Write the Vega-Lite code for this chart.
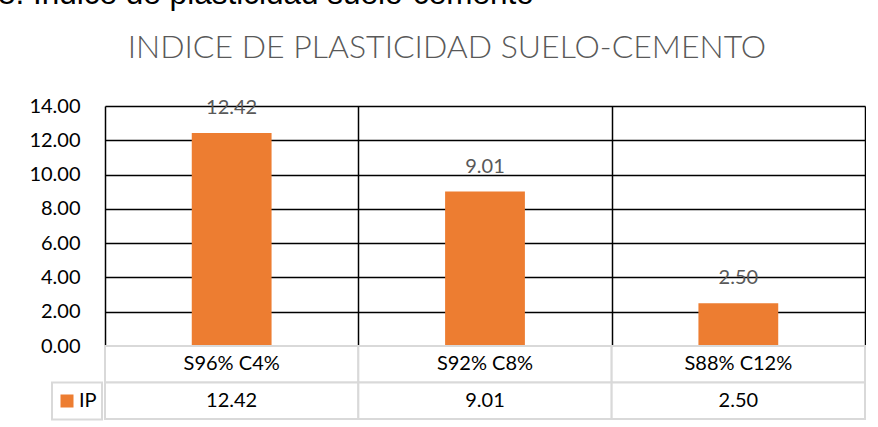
{
  "$schema": "https://vega.github.io/schema/vega-lite/v6.json",
  "padding": {"left": -2, "top": -22, "right": 0, "bottom": 0},
  "background": "white",
  "config": {
    "font": "Lato",
    "view": {"stroke": null}
  },
  "title": {
    "text": "8. Indice de plasticidad suelo-cemento",
    "anchor": "start",
    "frame": "group",
    "font": "Liberation Sans",
    "fontWeight": "normal",
    "fontSize": 31.5,
    "color": "#000000",
    "offset": 22,
    "dx": -107
  },
  "datasets": {
    "ip": [
      {"mezcla": "S96% C4%", "IP": 12.42, "serie": "IP"},
      {"mezcla": "S92% C8%", "IP": 9.01, "serie": "IP"},
      {"mezcla": "S88% C12%", "IP": 2.50, "serie": "IP"}
    ]
  },
  "bounds": "flush",
  "spacing": 0,
  "resolve": {"scale": {"color": "independent"}, "legend": {"color": "independent"}},
  "vconcat": [
    {
      "width": 760,
      "height": 240,
      "title": {
        "text": "INDICE DE PLASTICIDAD SUELO-CEMENTO",
        "anchor": "middle",
        "frame": "bounds",
        "font": "Lato",
        "fontWeight": 300,
        "fontSize": 32,
        "color": "#595959",
        "offset": 31
      },
      "data": {"name": "ip"},
      "encoding": {
        "x": {
          "field": "mezcla",
          "type": "nominal",
          "sort": null,
          "scale": {"paddingInner": 0, "paddingOuter": 0},
          "axis": {
            "title": null,
            "labels": false,
            "ticks": false,
            "domain": false,
            "grid": true,
            "tickBand": "extent",
            "gridColor": "#000000",
            "gridWidth": 1.5
          }
        },
        "y": {
          "field": "IP",
          "type": "quantitative",
          "scale": {"domain": [0, 14], "nice": false},
          "axis": {
            "title": null,
            "values": [0, 2, 4, 6, 8, 10, 12, 14],
            "format": ".2f",
            "labelFont": "Lato",
            "labelFontSize": 20,
            "labelColor": "#000000",
            "labelPadding": 25,
            "ticks": false,
            "domain": false,
            "grid": true,
            "gridColor": {"condition": {"test": "datum.value === 0", "value": "#d9d9d9"}, "value": "#000000"},
            "gridWidth": 1.5
          }
        }
      },
      "layer": [
        {
          "mark": {"type": "bar", "color": "#ED7D31", "width": {"band": 0.315}}
        },
        {
          "mark": {
            "type": "text",
            "baseline": "alphabetic",
            "dy": -19,
            "font": "Lato",
            "fontSize": 20,
            "color": "#595959"
          },
          "encoding": {"text": {"field": "IP", "type": "quantitative", "format": ".2f"}}
        }
      ]
    },
    {
      "width": 760,
      "height": 73,
      "data": {"name": "ip"},
      "encoding": {
        "x": {
          "field": "mezcla",
          "type": "nominal",
          "sort": null,
          "scale": {"paddingInner": 0, "paddingOuter": 0},
          "axis": null
        }
      },
      "layer": [
        {
          "mark": {"type": "rect", "fill": "white", "stroke": "#d9d9d9", "strokeWidth": 2},
          "encoding": {
            "y": {"datum": "fila", "type": "nominal", "scale": {"domain": ["fila", "valor"], "paddingInner": 0, "paddingOuter": 0}, "axis": null}
          }
        },
        {
          "mark": {"type": "rect", "fill": "white", "stroke": "#d9d9d9", "strokeWidth": 2},
          "encoding": {
            "y": {"datum": "valor", "type": "nominal"}
          }
        },
        {
          "mark": {"type": "text", "font": "Lato", "fontSize": 20, "color": "#000000"},
          "encoding": {
            "y": {"datum": "fila", "type": "nominal"},
            "text": {"field": "mezcla", "type": "nominal"}
          }
        },
        {
          "mark": {"type": "text", "font": "Lato", "fontSize": 20, "color": "#000000"},
          "encoding": {
            "y": {"datum": "valor", "type": "nominal"},
            "text": {"field": "IP", "type": "quantitative", "format": ".2f"}
          }
        },
        {
          "mark": {"type": "point", "filled": true, "opacity": 0, "size": 0},
          "encoding": {
            "y": {"datum": "valor", "type": "nominal"},
            "color": {
              "field": "serie",
              "type": "nominal",
              "scale": {"domain": ["IP"], "range": ["#ED7D31"]},
              "legend": {
                "title": null,
                "orient": "none",
                "legendX": -53,
                "legendY": 36.5,
                "padding": 5,
                "clipHeight": 27,
                "strokeColor": "#d9d9d9",
                "symbolType": "square",
                "symbolSize": 169,
                "symbolStrokeWidth": 0,
                "symbolOpacity": 1,
                "labelFont": "Lato",
                "labelFontSize": 20,
                "labelColor": "#000000",
                "labelOffset": 2,
                "encode": {"legend": {"update": {"strokeWidth": {"value": 2}}}}
              }
            }
          }
        }
      ]
    }
  ]
}
